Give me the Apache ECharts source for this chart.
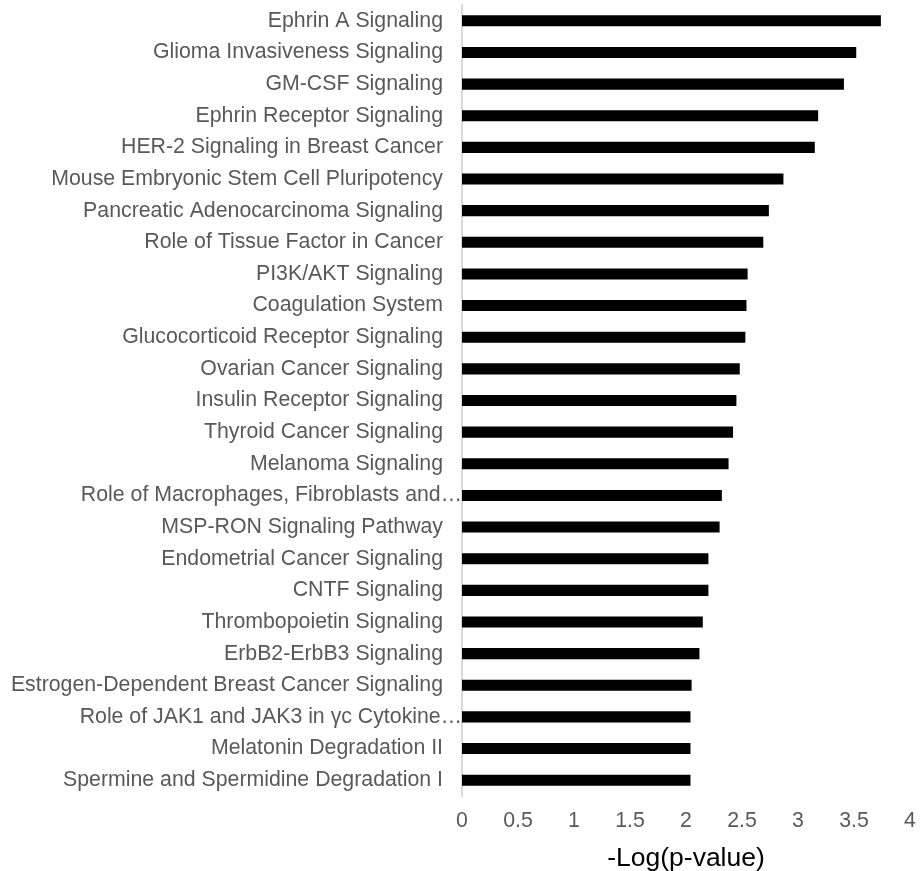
<!DOCTYPE html>
<html>
<head>
<meta charset="utf-8">
<script src="https://cdn.jsdelivr.net/npm/echarts@6/dist/echarts.min.js"></script>
<style>
html, body { margin: 0; padding: 0; background: #fff; }
#main { width: 921px; height: 871px; }
</style>
</head>
<body>
<div id="main"></div>
<script>
// pathways, top to bottom
var pathways = [
  'Ephrin A Signaling',
  'Glioma Invasiveness Signaling',
  'GM-CSF Signaling',
  'Ephrin Receptor Signaling',
  'HER-2 Signaling in Breast Cancer',
  'Mouse Embryonic Stem Cell Pluripotency',
  'Pancreatic Adenocarcinoma Signaling',
  'Role of Tissue Factor in Cancer',
  'PI3K/AKT Signaling',
  'Coagulation System',
  'Glucocorticoid Receptor Signaling',
  'Ovarian Cancer Signaling',
  'Insulin Receptor Signaling',
  'Thyroid Cancer Signaling',
  'Melanoma Signaling',
  'Role of Macrophages, Fibroblasts and…',
  'MSP-RON Signaling Pathway',
  'Endometrial Cancer Signaling',
  'CNTF Signaling',
  'Thrombopoietin Signaling',
  'ErbB2-ErbB3 Signaling',
  'Estrogen-Dependent Breast Cancer Signaling',
  'Role of JAK1 and JAK3 in γc Cytokine…',
  'Melatonin Degradation II',
  'Spermine and Spermidine Degradation I'
];

// -log(p-value)
var negLogP = [3.74, 3.52, 3.41, 3.18, 3.15, 2.87, 2.74, 2.69, 2.55, 2.54, 2.53, 2.48, 2.45,
  2.42, 2.38, 2.32, 2.30, 2.20, 2.20, 2.15, 2.12, 2.05, 2.04, 2.04, 2.04];

var xTicks = [0, 0.5, 1, 1.5, 2, 2.5, 3, 3.5, 4];

// truncated labels hang their ellipsis over the axis line
var catData = pathways.map(function (p) {
  if (p.slice(-1) === '…') {
    return { value: p, textStyle: { padding: [0, -19, 0, 0] } };
  }
  return p;
});

var myChart = echarts.init(document.getElementById('main'));
myChart.setOption({
  animation: false,
  textStyle: { fontFamily: 'Liberation Sans, Arial, sans-serif' },
  grid: { left: 462, right: 11, top: 5, bottom: 75, containLabel: false, outerBoundsMode: 'none' },
  xAxis: {
    type: 'value',
    min: xTicks[0],
    max: xTicks[xTicks.length - 1],
    interval: 0.5,
    name: '-Log(p-value)',
    nameLocation: 'middle',
    nameGap: 49,
    nameTextStyle: { color: '#000', fontSize: 26.5 },
    axisLine: { show: false },
    axisTick: { show: false },
    splitLine: { show: false },
    axisLabel: { color: '#595959', fontSize: 21.3, margin: 15 }
  },
  yAxis: {
    type: 'category',
    inverse: true,
    data: catData,
    axisLine: { show: true, lineStyle: { color: '#d9d9d9', width: 2 } },
    axisTick: { show: false },
    axisLabel: { color: '#595959', fontSize: 21.3, margin: 19, interval: 0 }
  },
  series: [{
    type: 'bar',
    data: negLogP,
    barWidth: '35%',
    itemStyle: { color: '#000' }
  }]
});
</script>
</body>
</html>
